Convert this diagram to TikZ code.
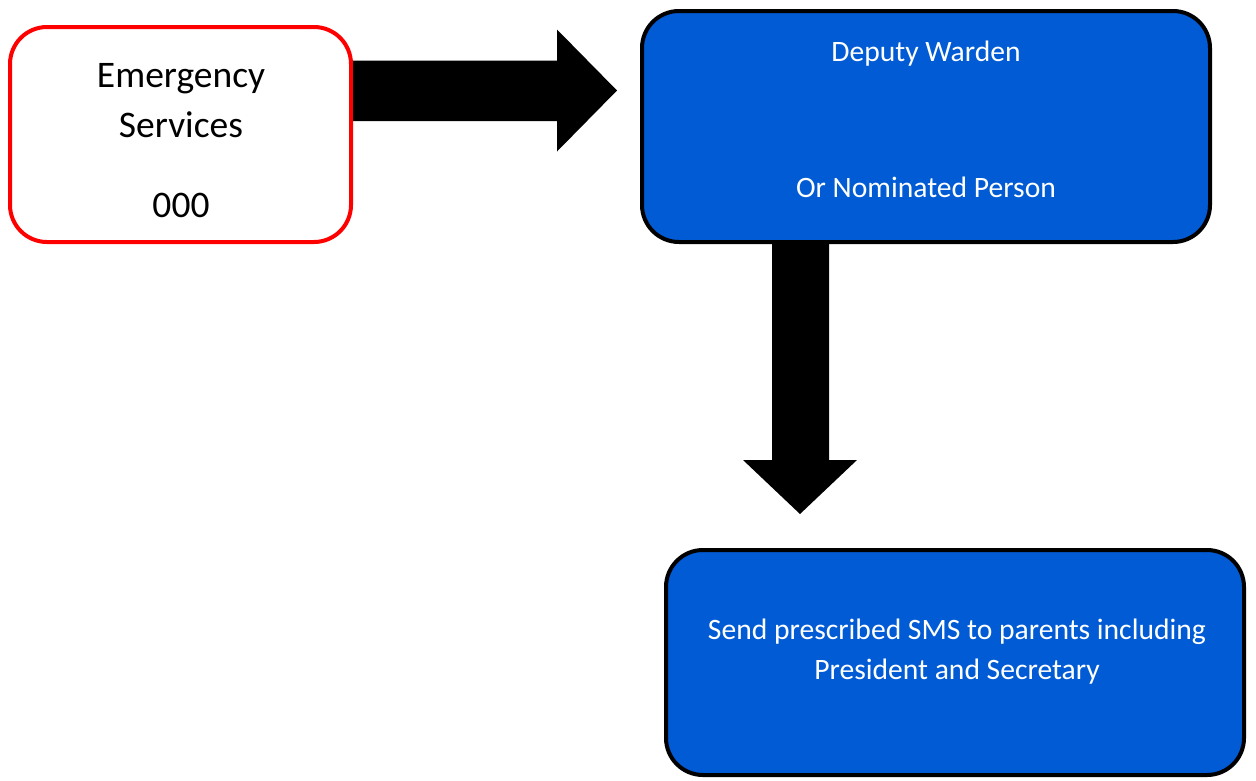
\documentclass[tikz,border=0pt]{standalone}
\usepackage{fontspec}
\setmainfont{Carlito}
\usetikzlibrary{calc}
\definecolor{boxblue}{RGB}{0,91,212}
\definecolor{boxred}{RGB}{255,0,0}
\begin{document}
\begin{tikzpicture}[x=1pt,y=-1pt,
  box/.style={rounded corners=37pt, line width=4pt, inner sep=0pt},
  redbox/.style={box, draw=boxred, fill=white},
  bluebox/.style={box, draw=black, fill=boxblue},
  darklabel/.style={font=\fontsize{37.5}{45}\selectfont, text=black, anchor=base, inner sep=0pt},
  lightlabel/.style={font=\fontsize{29.6}{35}\selectfont, text=white, anchor=base, inner sep=0pt},
  blockarrow/.style={fill=black, draw=none}]
\useasboundingbox (0,0) rectangle (1256,780);
% boxes
\node[redbox, minimum width=341pt, minimum height=215pt] (ems) at (180.5,134.5) {};
\node[bluebox, minimum width=568pt, minimum height=231pt] (dw) at (926,126.5) {};
\node[bluebox, minimum width=578pt, minimum height=225pt] (sms) at (955,662.5) {};
% right block arrow from ems towards dw
\coordinate (ra1) at ($(ems.east)+(0,-74)$);
\coordinate (ra2) at ($(ems.east)+(0,-13.5)$);
\coordinate (rtip) at ($(dw.west)+(-23,-36)$);
\fill[blockarrow] (ra1) -- (ra1 -| 557,0) -- (557,29.5) -- (rtip) -- (557,151.5) -- (ra2 -| 557,0) -- (ra2) -- cycle;
% down block arrow from dw towards sms
\coordinate (da1) at ($(dw.south)+(-154,0)$);
\coordinate (da2) at ($(dw.south)+(-97,0)$);
\coordinate (dtip) at ($(sms.north)+(-155,-34)$);
\fill[blockarrow] (da1) -- (772,460) -- (743,460) -- (dtip) -- (857,460) -- (829,460) -- (da2) -- cycle;
% texts
\node[darklabel] (t1) at (181,87) {Emergency};
\node[darklabel] (t2) at (181,137) {Services};
\node[darklabel] (t3) at (181,217) {000};
\node[lightlabel] (t4) at (926,61) {Deputy Warden};
\node[lightlabel] (t5) at (926,197) {Or Nominated Person};
\node[lightlabel] (t6) at (957,639) {Send prescribed SMS to parents including};
\node[lightlabel] (t7) at (957,679) {President and Secretary};
\end{tikzpicture}
\end{document}
